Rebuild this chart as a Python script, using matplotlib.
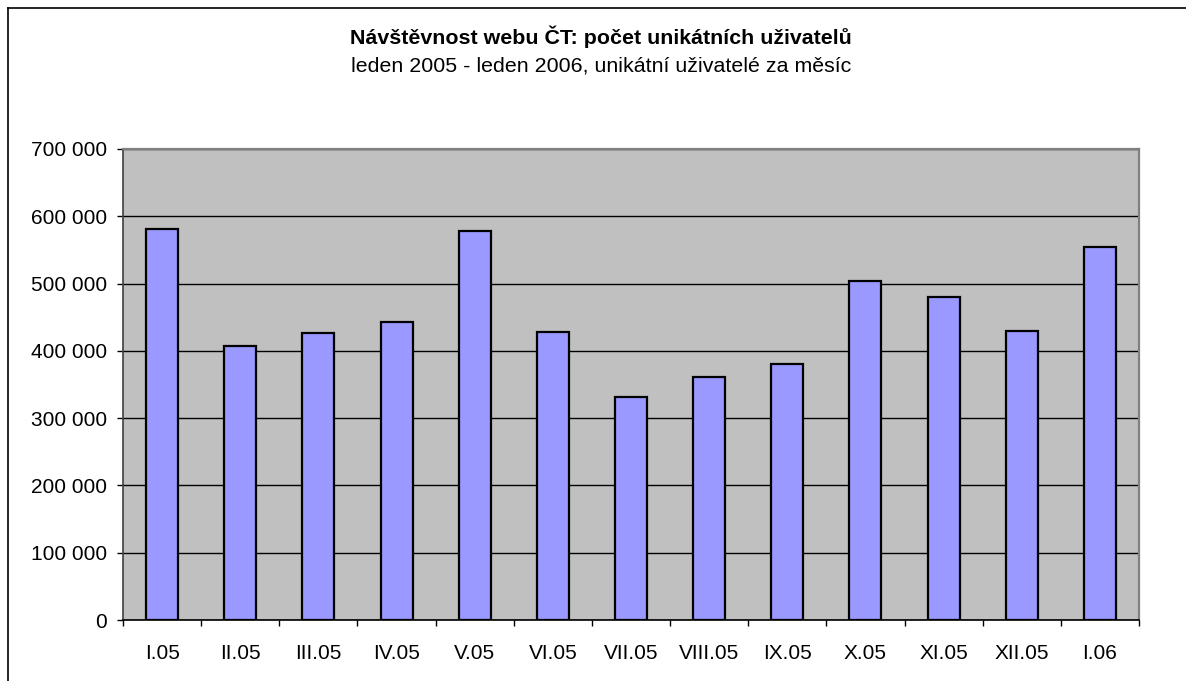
import matplotlib
matplotlib.use('Agg')
import matplotlib.pyplot as plt
from matplotlib.ticker import FuncFormatter, MultipleLocator
from matplotlib.lines import Line2D

# Data
months = ['I.05', 'II.05', 'III.05', 'IV.05', 'V.05', 'VI.05', 'VII.05',
          'VIII.05', 'IX.05', 'X.05', 'XI.05', 'XII.05', 'I.06']
users = [581700, 407300, 426200, 442600, 577800, 428700, 331900,
         361700, 380500, 503700, 479900, 430200, 554900]

title = 'Návštěvnost webu ČT: počet unikátních uživatelů'
subtitle = 'leden 2005 - leden 2006, unikátní uživatelé za měsíc'

plt.rcParams['font.family'] = ['Liberation Sans', 'DejaVu Sans']

W, H = 1186, 681
fig = plt.figure(figsize=(W / 100, H / 100), dpi=100)
ax = fig.add_axes([123 / W, 1 - 620 / H, (1139 - 123) / W, (620 - 149) / H])

# chart area border (cut off on the right and bottom)
fig.add_artist(Line2D([8 / W, 1], [1 - 8 / H, 1 - 8 / H], color='black', lw=1.2))
fig.add_artist(Line2D([8 / W, 8 / W], [0, 1 - 8 / H], color='black', lw=1.2))

fig.text(601 / W, 1 - 44 / H, title, ha='center', va='baseline', fontsize=15.4, fontweight='bold')
fig.text(601 / W, 1 - 72 / H, subtitle, ha='center', va='baseline', fontsize=15.4)

x = range(len(months))
ax.set_facecolor('#C0C0C0')
ax.bar(x, users, width=0.41, color='#9999FF', edgecolor='black', linewidth=1.6, zorder=3)

ax.set_xlim(-0.5, len(months) - 0.5)
ax.set_ylim(0, 700000)
ax.yaxis.set_major_locator(MultipleLocator(100000))
ax.yaxis.set_major_formatter(FuncFormatter(lambda v, p: f'{int(v):,}'.replace(',', ' ')))
ax.grid(axis='y', color='black', linewidth=1.0, zorder=1)

ax.set_xticks(list(x))
ax.set_xticklabels(months)
ax.set_xticks([i - 0.5 for i in range(len(months) + 1)], minor=True)
ax.tick_params(axis='x', which='major', length=0, pad=17, labelsize=15)
ax.tick_params(axis='x', which='minor', length=4, width=1, direction='out')
ax.tick_params(axis='y', length=4.5, width=1, direction='out', labelsize=15, pad=7)

for side in ['top', 'right']:
    ax.spines[side].set_color('#808080')
    ax.spines[side].set_linewidth(1.6)
ax.spines['left'].set_color('#404040')
ax.spines['left'].set_linewidth(1.2)
ax.spines['bottom'].set_color('black')
ax.spines['bottom'].set_linewidth(1.2)

fig.savefig('out.png', dpi=100)
